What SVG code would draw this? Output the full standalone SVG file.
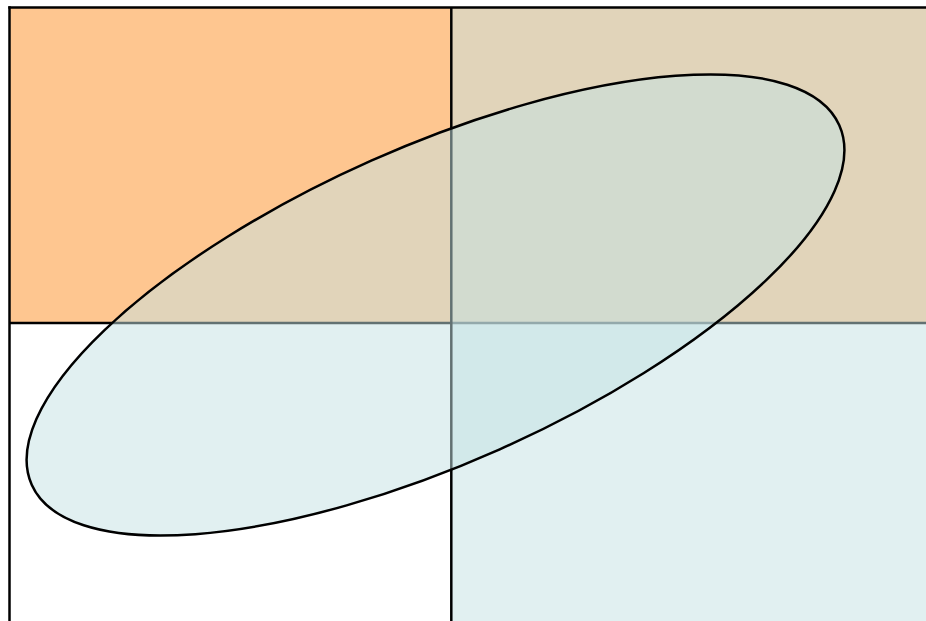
<svg xmlns="http://www.w3.org/2000/svg" width="926" height="621" viewBox="0 0 926 621">
<style>
.ln{stroke:#000;stroke-width:2.5;fill:none}
.veil{fill:rgb(196,226,228);fill-opacity:0.5}
</style>
<rect width="926" height="621" fill="#fff"/>
<g id="top-band">
<rect x="9.5" y="7.5" width="930" height="315.5" fill="#FEC690"/>
</g>
<g id="connectors">
<line class="ln" x1="9.5" y1="323" x2="930" y2="323"/>
</g>
<g id="right-band">
<rect class="veil" x="451.3" y="7.5" width="480" height="620"/>
</g>
<g id="frame">
<line class="ln" x1="8.3" y1="7.5" x2="930" y2="7.5"/>
<line class="ln" x1="9.5" y1="6.3" x2="9.5" y2="625"/>
<line class="ln" x1="451.3" y1="7.5" x2="451.3" y2="625"/>
</g>
<g id="ellipse">
<ellipse class="veil" cx="435.5" cy="305" rx="442" ry="158" transform="rotate(-24 435.5 305)"/>
<ellipse class="ln" cx="435.5" cy="305" rx="442" ry="158" transform="rotate(-24 435.5 305)"/>
</g>
</svg>
